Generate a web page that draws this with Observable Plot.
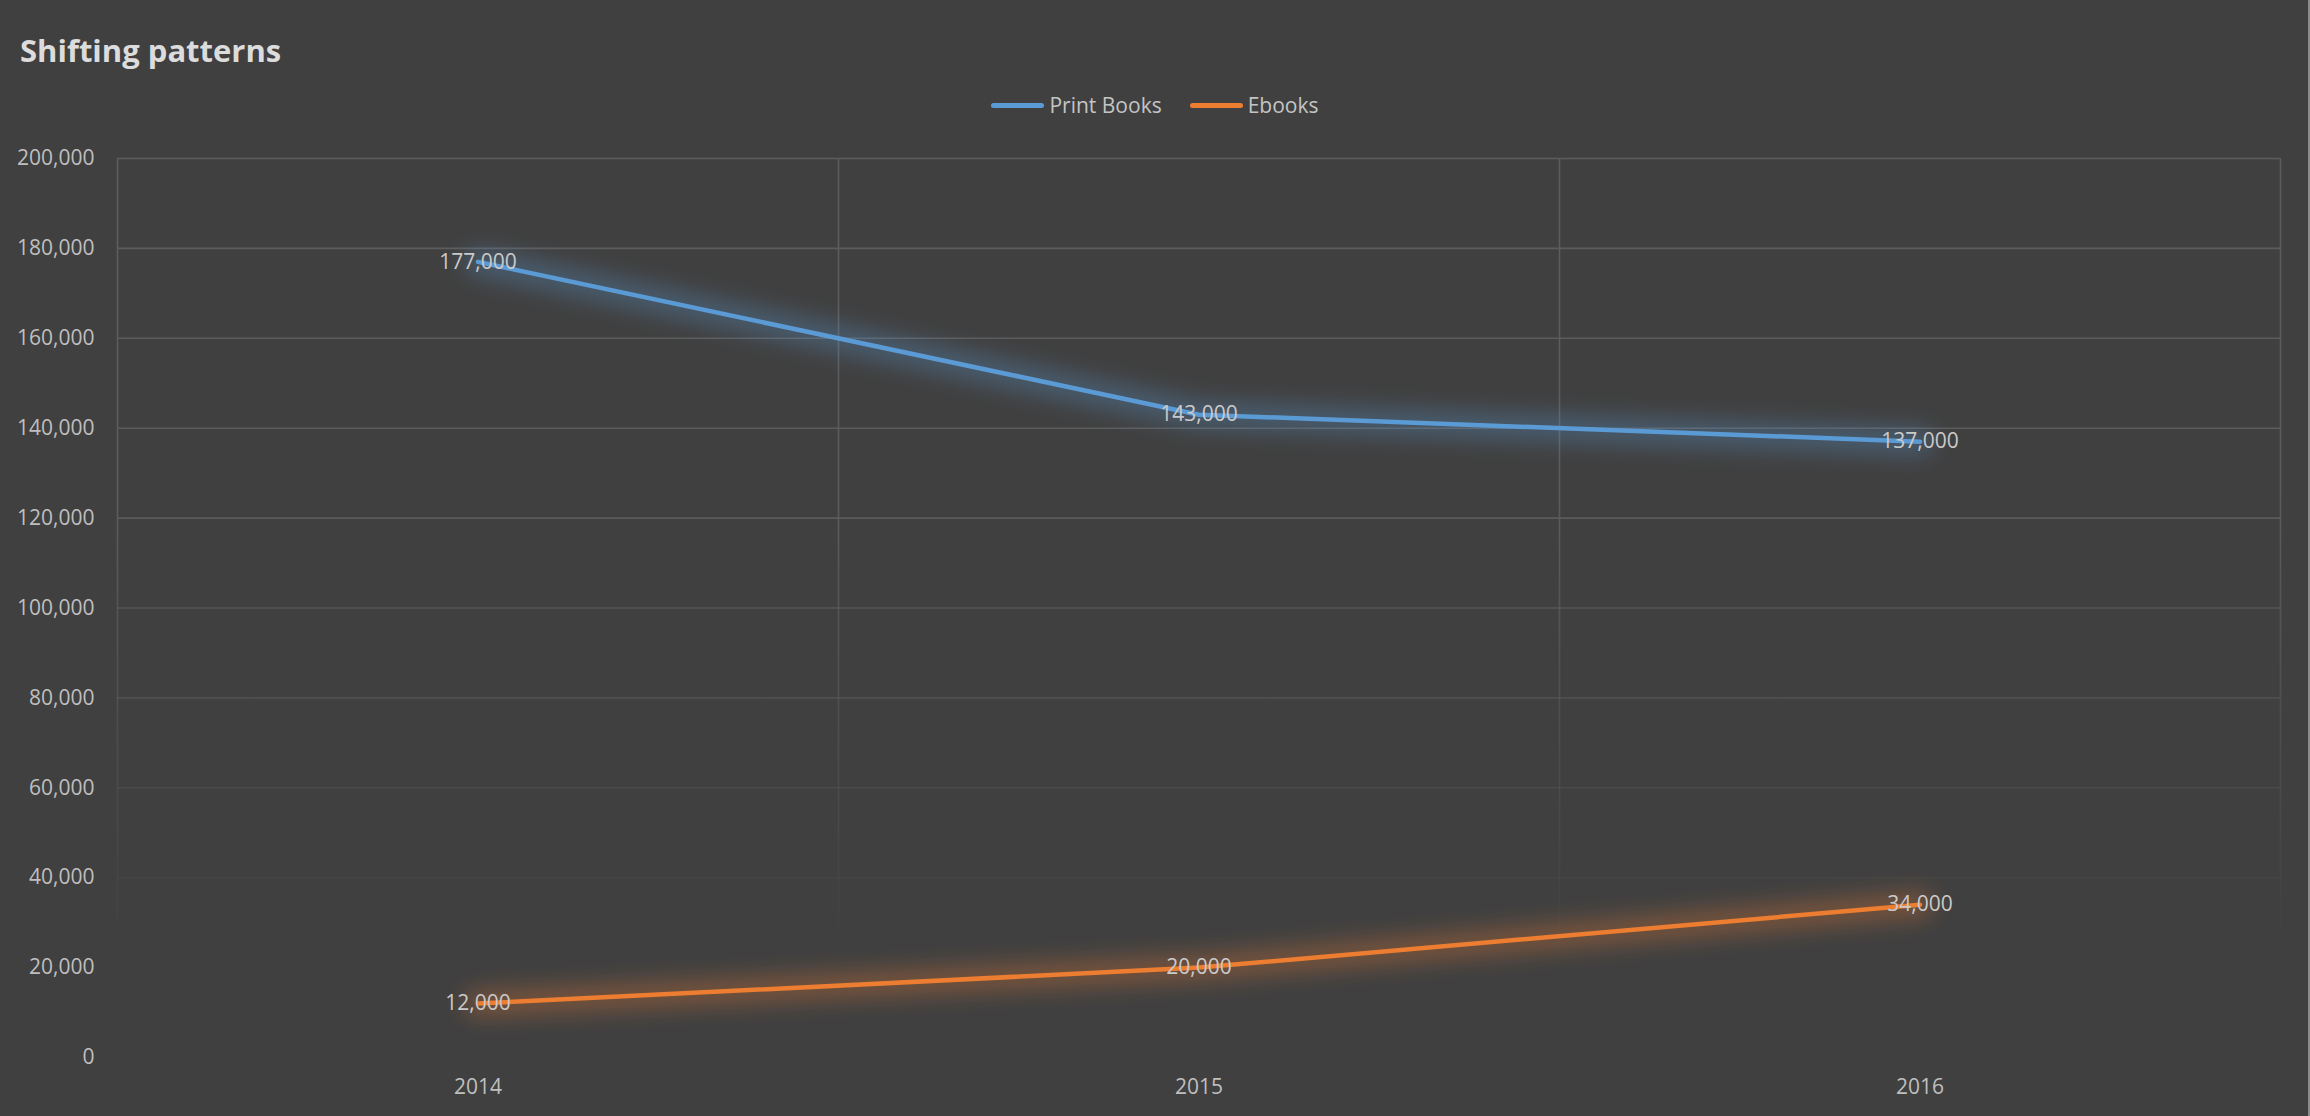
<!DOCTYPE html>
<html>
<head>
<meta charset="utf-8">
<script src="https://cdn.jsdelivr.net/npm/d3@7"></script>
<script src="https://cdn.jsdelivr.net/npm/@observablehq/plot@0.6"></script>
<style>
  html, body { margin: 0; padding: 0; background: #404040; }
  #wrap { position: relative; width: 2310px; height: 1116px; overflow: hidden; background: #404040; font-family: "Open Sans", sans-serif; }
  #title { position: absolute; left: 20px; top: 35px; font-size: 31px; line-height: 1; font-weight: 700; color: #dcdcdc; }
  #legend { position: absolute; left: 0; top: 92px; width: 2310px; display: flex; justify-content: center; align-items: center; font-size: 21px; line-height: 26px; color: #c4c4c4; }
  .item { display: flex; align-items: center; margin: 0 14px; }
  .swatch { width: 53px; height: 5px; border-radius: 3px; margin-right: 5px; }
  #chart { position: absolute; left: 0; top: 0; }
  #edge { position: absolute; left: 2308px; top: 0; width: 2px; height: 1116px; background: #8c8c8c; }
</style>
</head>
<body>
<div id="wrap">
  <div id="title"></div>
  <div id="legend"></div>
  <div id="chart"></div>
  <div id="edge"></div>
</div>
<script>
const titleText = "Shifting patterns";
const years = [2014, 2015, 2016];
const seriesNames = ["Print Books", "Ebooks"];
const printBooks = [177000, 143000, 137000];
const ebooks = [12000, 20000, 34000];
const seriesColors = ["#5b9bd5", "#ed7d31"];
const yTicks = [0, 20000, 40000, 60000, 80000, 100000, 120000, 140000, 160000, 180000, 200000];

const seriesValues = [printBooks, ebooks];
const rows = [];
seriesNames.forEach((s, si) => years.forEach((yr, i) => rows.push({series: s, year: yr, value: seriesValues[si][i]})));
const bounds = [years[0] - 0.5, ...years.map(y => y + 0.5)];
const fmt = d3.format(",");

document.getElementById("title").textContent = titleText;
const legend = document.getElementById("legend");
seriesNames.forEach((s, i) => {
  const it = document.createElement("div"); it.className = "item";
  const sw = document.createElement("div"); sw.className = "swatch"; sw.style.background = seriesColors[i];
  const tx = document.createElement("span"); tx.textContent = s;
  it.appendChild(sw); it.appendChild(tx); legend.appendChild(it);
});

const gridColor = "#5c5c5c";
const marks = [
  Plot.ruleY(yTicks, {y: d => d, stroke: gridColor, strokeWidth: 1.6}),
  Plot.ruleX(bounds, {x: d => d, y1: 0, y2: 200000, stroke: gridColor, strokeWidth: 1.6})
];
seriesNames.forEach((s, i) => {
  const data = rows.filter(r => r.series === s);
  marks.push(Plot.line(data, {x: "year", y: "value", stroke: seriesColors[i], strokeWidth: 26, strokeOpacity: 0.33}));
  marks.push(Plot.line(data, {x: "year", y: "value", stroke: seriesColors[i], strokeWidth: 4.5}));
});
marks.push(Plot.text(rows, {x: "year", y: "value", text: d => fmt(d.value), fill: "#cacaca", fontSize: 21, textAnchor: "middle", lineAnchor: "middle"}));
marks.push(Plot.axisY(yTicks, {tickSize: 0, tickPadding: 23, tickFormat: d => fmt(d), label: null, fontSize: 21}));
marks.push(Plot.axisX(years, {tickSize: 0, tickPadding: 22, tickFormat: d => String(d), label: null, fontSize: 21}));

const plot = Plot.plot({
  width: 2310,
  height: 1116,
  marginLeft: 117,
  marginRight: 30,
  marginTop: 158,
  marginBottom: 59,
  style: {background: "transparent", color: "#bfbfbf", fontFamily: "Open Sans, sans-serif", fontSize: "21px"},
  x: {type: "linear", domain: [bounds[0], bounds[bounds.length - 1]]},
  y: {domain: [0, 200000]},
  marks
});

const ns = "http://www.w3.org/2000/svg";
const defs = document.createElementNS(ns, "defs");
defs.innerHTML = `
  <filter id="glowBlur" filterUnits="userSpaceOnUse" x="0" y="0" width="2310" height="1116">
    <feGaussianBlur stdDeviation="11"/>
  </filter>
  <linearGradient id="gridFade" gradientUnits="userSpaceOnUse" x1="0" y1="158" x2="0" y2="955">
    <stop offset="0" stop-color="${gridColor}" stop-opacity="1"/>
    <stop offset="0.42" stop-color="${gridColor}" stop-opacity="1"/>
    <stop offset="1" stop-color="${gridColor}" stop-opacity="0"/>
  </linearGradient>`;
plot.insertBefore(defs, plot.firstChild);
const lineGroups = plot.querySelectorAll('g[aria-label="line"]');
[0, 2].forEach(k => { if (lineGroups[k]) lineGroups[k].setAttribute("filter", "url(#glowBlur)"); });
plot.querySelectorAll('g[aria-label="rule"]').forEach(g => {
  g.setAttribute("stroke", "url(#gridFade)");
  g.querySelectorAll("line").forEach(l => l.setAttribute("stroke", "url(#gridFade)"));
});
document.getElementById("chart").appendChild(plot);
</script>
</body>
</html>
